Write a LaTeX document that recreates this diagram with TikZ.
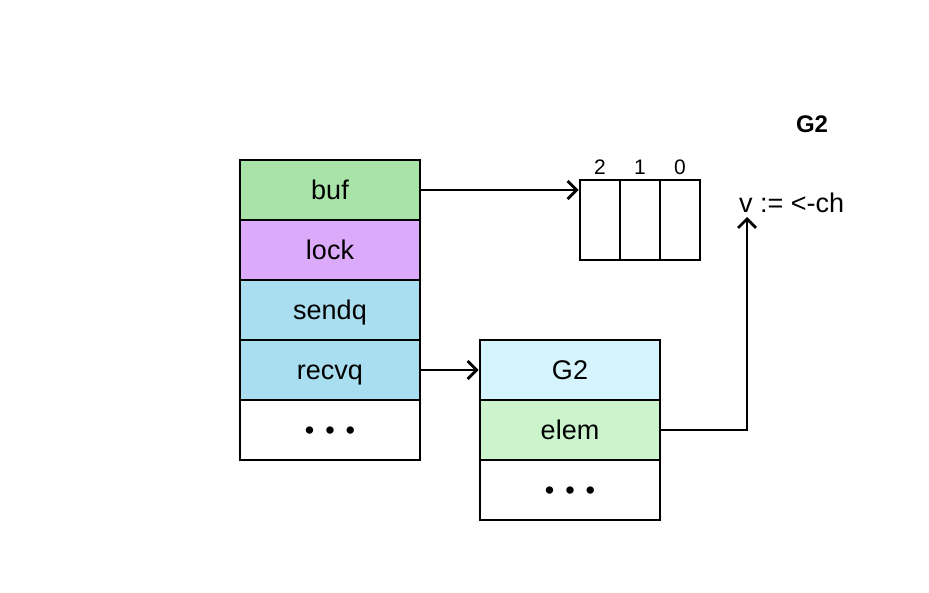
\documentclass[tikz,border=0pt]{standalone}
\usepackage{fontspec}
\setmainfont{Liberation Sans}
\usetikzlibrary{arrows.meta}
\definecolor{cbuf}{RGB}{168,228,168}
\definecolor{clock}{RGB}{220,170,250}
\definecolor{cq}{RGB}{168,222,240}
\definecolor{cgtwo}{RGB}{214,244,254}
\definecolor{celem}{RGB}{204,244,204}
\newcommand{\dotsrow}{\textbullet\hspace{11pt}\textbullet\hspace{11pt}\textbullet}
\tikzset{
  cell/.style={draw=black, line width=2.8pt, minimum width=180pt, minimum height=60pt, inner sep=0pt,
    font=\fontsize{27}{32}\selectfont, text height=18pt, text depth=0pt},
  slot/.style={draw=black, line width=2.8pt, minimum width=40pt, minimum height=80pt, inner sep=0pt},
  idx/.style={font=\fontsize{21}{25}\selectfont, inner sep=0pt, anchor=base},
  lbl/.style={font=\fontsize{27}{32}\selectfont, inner sep=0pt, anchor=base},
  conn/.style={line width=2.8pt, -{Straight Barb[length=9pt,width=18pt,line width=2.8pt]}},
}
\begin{document}
\begin{tikzpicture}[x=1pt,y=-1pt]
\useasboundingbox (0,0) rectangle (929,592);
% left struct
\node[cell, fill=cbuf] (buf) at (330,190) {buf};
\node[cell, fill=clock] (lock) at (330,250) {lock};
\node[cell, fill=cq] (sendq) at (330,310) {sendq};
\node[cell, fill=cq] (recvq) at (330,370) {recvq};
\node[cell, fill=white] (ldots) at (330,430) {\dotsrow};
% buffer array
\node[slot] (s2) at (600,220) {};
\node[slot] (s1) at (640,220) {};
\node[slot] (s0) at (680,220) {};
\node[idx] (l2) at (600,174) {2};
\node[idx] (l1) at (640,174) {1};
\node[idx] (l0) at (680,174) {0};
% G2 struct
\node[cell, fill=cgtwo] (g2) at (570,370) {G2};
\node[cell, fill=celem] (elem) at (570,430) {elem};
\node[cell, fill=white] (rdots) at (570,490) {\dotsrow};
% labels
\node[lbl, anchor=base west] (recv) at (739,212) {v := <-ch};
\node[lbl, font=\fontsize{24}{29}\selectfont\bfseries] (title) at (812,132) {G2};
\coordinate (up) at (747,217);
% connectors
\draw[conn] (buf.east) -- (s2.west |- buf.east);
\draw[conn] (recvq.east) -- (g2.west);
\draw[conn] (elem.east) -| (up);
\end{tikzpicture}
\end{document}
